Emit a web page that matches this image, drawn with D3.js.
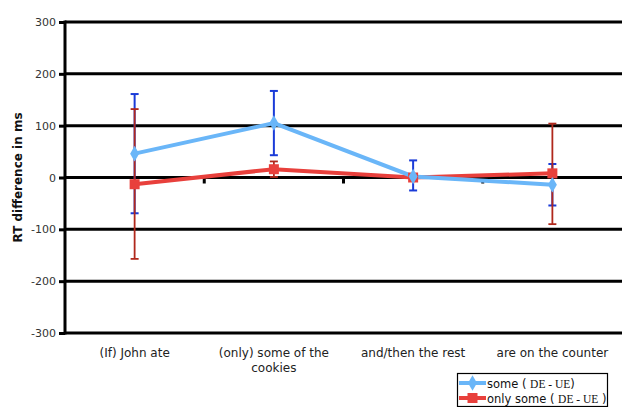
<!DOCTYPE html>
<html>
<head>
<meta charset="utf-8">
<script src="https://cdn.jsdelivr.net/npm/d3@7"></script>
<style>
  body { margin: 0; background: #fff; }
  svg { display: block; }
</style>
</head>
<body>
<svg id="chart" width="622" height="407"></svg>
<script>
// --- data ---
const categories = ["(If) John ate", "(only) some of the cookies", "and/then the rest", "are on the counter"];
const someMean = [46, 105, 2, -14];
const someHigh = [161, 167, 33, 26];
const someLow = [-69, 43, -25, -54];
const onlyMean = [-13, 16, 0, 8];
const onlyHigh = [132, 31, 2, 104];
const onlyLow = [-157, 1, -2, -90];
const yTicks = [-300, -200, -100, 0, 100, 200, 300];

const svg = d3.select("#chart");
const plotLeft = 65, plotRight = 622, plotTop = 22, plotBottom = 333;

const x = d3.scaleBand().domain(categories).range([plotLeft, plotRight]);
const y = d3.scaleLinear().domain([-300, 300]).range([plotBottom, plotTop]);
const cx = d => x(d) + x.bandwidth() / 2;

// grid lines
svg.append("g").selectAll("line").data(yTicks).enter().append("line")
  .attr("x1", plotLeft).attr("x2", plotRight)
  .attr("y1", d => y(d)).attr("y2", d => y(d))
  .attr("stroke", "#000").attr("stroke-width", 3);

// y axis (plain hyphen for negatives, like the original)
const yAxis = svg.append("g").attr("transform", `translate(${plotLeft},0)`)
  .call(d3.axisLeft(y).tickValues(yTicks).tickFormat(d => String(d)).tickSize(6).tickPadding(3));
yAxis.select(".domain").attr("stroke-width", 3).attr("d", `M0,${plotTop - 1.5}V${plotBottom + 1.5}`);
yAxis.selectAll(".tick line").attr("stroke-width", 3);
yAxis.selectAll("text").attr("font-family", "DejaVu Sans, Verdana, sans-serif")
  .attr("font-size", 11).attr("fill", "#333");

// small category ticks on the zero line
const bounds = categories.slice(1).map(c => x(c));
svg.append("g").selectAll("line").data(bounds).enter().append("line")
  .attr("x1", d => d).attr("x2", d => d)
  .attr("y1", y(0)).attr("y2", y(0) + 6)
  .attr("stroke", "#000").attr("stroke-width", 3);

// category labels
const lab = svg.append("g").selectAll("text").data(categories).enter().append("text")
  .attr("x", d => cx(d)).attr("y", 357)
  .attr("text-anchor", "middle")
  .attr("font-family", "DejaVu Sans, Verdana, sans-serif")
  .attr("font-size", 12).attr("fill", "#222");
lab.each(function(d) {
  const t = d3.select(this);
  const lines = d === "(only) some of the cookies" ? ["(only) some of the", "cookies"] : [d];
  lines.forEach((l, i) => t.append("tspan").attr("x", cx(d)).attr("dy", i ? 15 : 0).text(l));
});

// y label
svg.append("text")
  .attr("transform", `translate(22,${y(0)}) rotate(-90)`)
  .attr("text-anchor", "middle")
  .attr("font-family", "DejaVu Sans, Verdana, sans-serif")
  .attr("font-size", 12).attr("font-weight", "bold").attr("fill", "#111")
  .text("RT difference in ms");

// error bars
function errorBars(high, low, color, w) {
  const g = svg.append("g").attr("stroke", color).attr("stroke-width", w);
  categories.forEach((c, i) => {
    const px = cx(c);
    g.append("line").attr("x1", px).attr("x2", px).attr("y1", y(high[i])).attr("y2", y(low[i]));
    [high[i], low[i]].forEach(v => g.append("line")
      .attr("x1", px - 4).attr("x2", px + 4).attr("y1", y(v)).attr("y2", y(v)));
  });
}
errorBars(someHigh, someLow, "#1a3bd8", 2);
errorBars(onlyHigh, onlyLow, "#b0281c", 1.8);

const line = d3.line().x((d, i) => cx(categories[i])).y(d => y(d));

// only some series
svg.append("path").datum(onlyMean).attr("d", line)
  .attr("fill", "none").attr("stroke", "#e8403c").attr("stroke-width", 4);
// some series
svg.append("path").datum(someMean).attr("d", line)
  .attr("fill", "none").attr("stroke", "#6ab6f8").attr("stroke-width", 4);

const diamond = d3.symbol().type(d3.symbolDiamond).size(70);
const square = d3.symbol().type(d3.symbolSquare).size(100);
svg.append("g").selectAll("path").data(onlyMean).enter().append("path")
  .attr("d", square).attr("fill", "#e8403c")
  .attr("transform", (d, i) => `translate(${cx(categories[i])},${y(d)})`);
svg.append("g").selectAll("path").data(someMean).enter().append("path")
  .attr("d", diamond).attr("fill", "#6ab6f8")
  .attr("transform", (d, i) => `translate(${cx(categories[i])},${y(d)})`);

// legend
const lg = svg.append("g");
lg.append("rect").attr("x", 457.5).attr("y", 373.5).attr("width", 150).attr("height", 33)
  .attr("fill", "#fff").attr("stroke", "#000").attr("stroke-width", 1.2);
const legendItems = [
  { name: "some", tail: ")", color: "#6ab6f8", sym: diamond },
  { name: "only some", tail: " )", color: "#e8403c", sym: square }
];
legendItems.forEach((it, i) => {
  const ly = 383 + i * 15;
  lg.append("line").attr("x1", 459).attr("x2", 486).attr("y1", ly).attr("y2", ly)
    .attr("stroke", it.color).attr("stroke-width", 4);
  lg.append("path").attr("d", it.sym).attr("fill", it.color)
    .attr("transform", `translate(472.5,${ly})`);
  const t = lg.append("text").attr("x", 487).attr("y", ly + 4.5)
    .attr("font-family", "DejaVu Sans, Verdana, sans-serif").attr("font-size", 11.5).attr("fill", "#111");
  t.append("tspan").text(it.name + " ( ");
  t.append("tspan").attr("font-family", "Liberation Serif, Times New Roman, serif").text("DE - UE");
  t.append("tspan").text(it.tail);
});
</script>
</body>
</html>
